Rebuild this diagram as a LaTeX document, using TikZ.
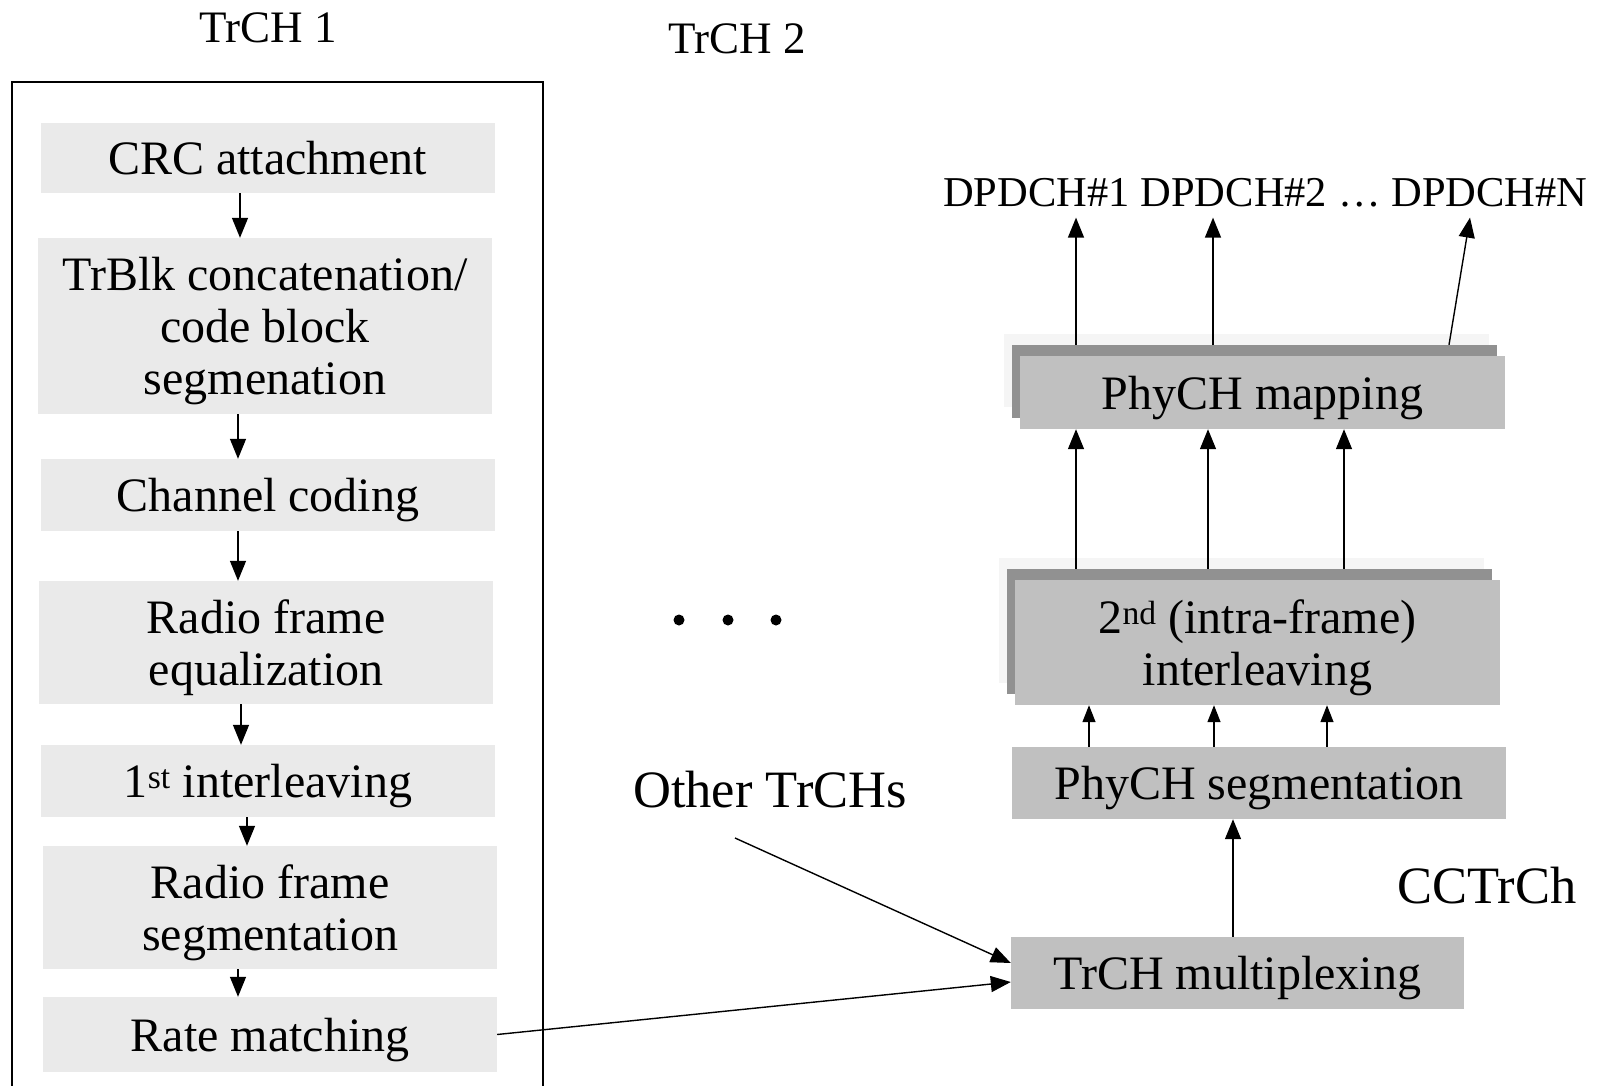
\documentclass[tikz,border=0pt]{standalone}
\usepackage{fontspec}
\setmainfont{Liberation Serif}
\usetikzlibrary{arrows.meta,shadows}
\definecolor{stepgray}{HTML}{EAEAEA}
\definecolor{blockgray}{HTML}{C0C0C0}
\definecolor{shadedark}{HTML}{919191}
\definecolor{shadelight}{HTML}{F5F5F5}
\begin{document}
\begin{tikzpicture}[x=1pt,y=-1pt,
  stepbox/.style={fill=stepgray, draw=none, inner sep=0pt, minimum width=454pt, text depth=0pt,
    align=center, font=\fontsize{48}{52}\selectfont},
  blockbox/.style={fill=blockgray, draw=none, inner sep=0pt, text depth=0pt,
    align=center, font=\fontsize{48}{52}\selectfont},
  stacked/.style={general shadow={fill=shadelight, shadow xshift=-16pt, shadow yshift=22pt},
    general shadow={fill=shadedark, shadow xshift=-8pt, shadow yshift=11pt}},
  lab/.style={inner sep=0pt, font=\fontsize{45}{50}\selectfont},
  biglab/.style={inner sep=0pt, font=\fontsize{52.5}{56}\selectfont},
  chlab/.style={inner sep=0pt, font=\fontsize{42.5}{46}\selectfont},
  arr/.style={line width=1.4pt, -{Triangle[length=20pt,width=16pt]}},
  arrs/.style={line width=1.4pt, -{Triangle[length=17pt,width=13pt]}}]

\useasboundingbox (0,0) rectangle (1604,1086);

% headings
\node[lab] (t1) at (268,28) {TrCH 1};
\node[lab] (t2) at (737,39) {TrCH 2};

% frame around the TrCH 1 chain (open at the bottom)
\draw[line width=1.3pt] (12,1086) -- (12,82) -- (543,82) -- (543,1086);

% TrCH 1 processing chain
\node[stepbox, minimum height=70pt]  (crc)   at (267.5,158)  {CRC attachment};
\node[stepbox, minimum height=176pt] (trblk) at (265,326)    {TrBlk concatenation/\\code block\\segmenation};
\node[stepbox, minimum height=72pt]  (chan)  at (268,495)    {Channel coding};
\node[stepbox, minimum height=123pt] (rfe)   at (266,642.5)  {Radio frame\\equalization};
\node[stepbox, minimum height=72pt]  (il1)   at (268,781)    {1\textsuperscript{st} interleaving};
\node[stepbox, minimum height=123pt] (rfs)   at (270,907.5)  {Radio frame\\segmentation};
\node[stepbox, minimum height=75pt]  (rate)  at (270,1034.5) {Rate matching};

\coordinate (xa) at (240,0);
\coordinate (xb) at (238,0);
\coordinate (xc) at (241,0);
\coordinate (xd) at (247,0);
\draw[arr] (crc.south -| xa)   -- (trblk.north -| xa);
\draw[arr] (trblk.south -| xb) -- (chan.north -| xb);
\draw[arr] (chan.south -| xb)  -- (rfe.north -| xb);
\draw[arr] (rfe.south -| xc)   -- (il1.north -| xc);
\draw[arr] (il1.south -| xd)   -- (rfs.north -| xd);
\draw[arr] (rfs.south -| xb)   -- (rate.north -| xb);

% other transport channels
\foreach \x in {679,728,776} \fill (\x,620) circle (5.5);
\node[biglab] (other) at (770,790) {Other TrCHs};
\node[biglab] (cctrch) at (1487,886) {CCTrCh};

% CCTrCh chain
\node[blockbox, minimum width=453pt, minimum height=72pt] (mux) at (1237.5,973) {TrCH multiplexing};
\node[blockbox, minimum width=494pt, minimum height=72pt] (seg) at (1259,783) {PhyCH segmentation};
\node[blockbox, stacked, minimum width=485pt, minimum height=125pt] (int) at (1257.5,642.5)
  {2\textsuperscript{nd} (intra-frame)\\interleaving};
\node[blockbox, stacked, minimum width=485pt, minimum height=73pt] (map) at (1262.5,392.5) {PhyCH mapping};

% physical channels
\node[chlab, anchor=base west] (d1) at (943,207) {DPDCH\#1};
\node[chlab, anchor=base west] (d2) at ([xshift=10.5pt]d1.base east) {DPDCH\#2};
\node[chlab, anchor=base west] (dd) at ([xshift=10.5pt]d2.base east) {…};
\node[chlab, anchor=base west] (dn) at ([xshift=10.5pt]dd.base east) {DPDCH\#N};

% connectors into the multiplexer
\coordinate (oth) at (735,838);
\draw[arr] (oth) -- ([yshift=10pt]mux.west);
\draw[arr] (rate.east) -- ([yshift=-9pt]mux.west);

\coordinate (xm) at (1233,0);
\draw[arr] (mux.north -| xm) -- (seg.south -| xm);

\foreach \x in {1089,1214,1327} {
  \coordinate (cx) at (\x,0);
  \draw[arrs] (seg.north -| cx) -- (int.south -| cx);
}

\coordinate (intTop) at ([yshift=11pt]int.north);
\foreach \x in {1076,1208,1344} {
  \coordinate (cx) at (\x,0);
  \draw[arr] (intTop -| cx) -- (map.south -| cx);
}

\coordinate (mapTop) at ([yshift=11pt]map.north);
\coordinate (dBase) at ([yshift=-10pt]d1.south);
\coordinate (x1) at (1076,0);
\coordinate (x2) at (1213,0);
\coordinate (x3) at (1449,0);
\coordinate (x4) at (1470,0);
\draw[arr] (mapTop -| x1) -- (dBase -| x1);
\draw[arr] (mapTop -| x2) -- (dBase -| x2);
\draw[arr] (mapTop -| x3) -- (dBase -| x4);
\end{tikzpicture}
\end{document}
